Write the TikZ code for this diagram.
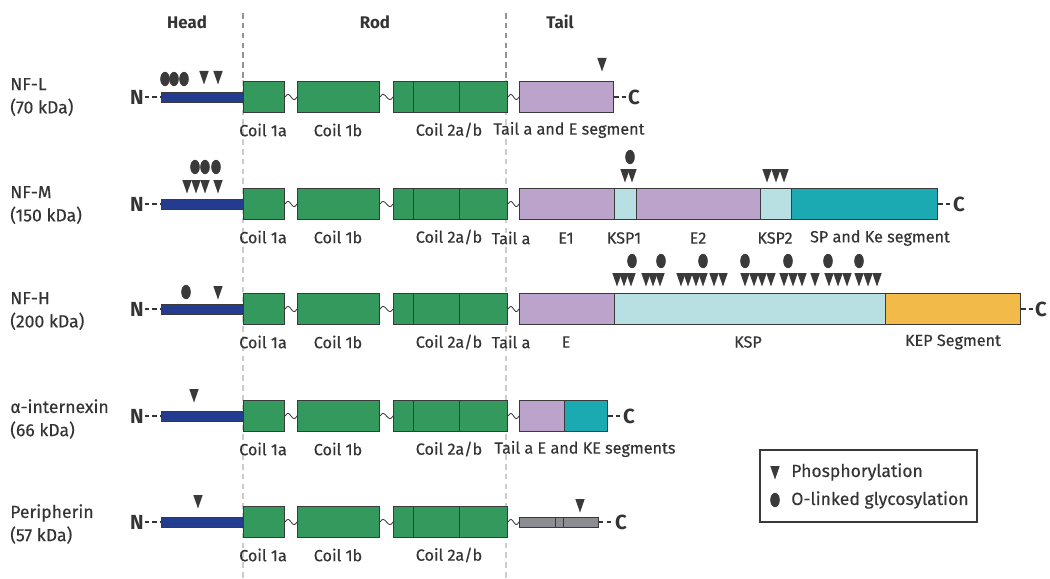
\documentclass[tikz,border=0pt]{standalone}
\usepackage{fontspec}
\setmainfont{Fira Sans}[UprightFeatures={FakeBold=0.35}]
\usepackage{tikz}
\usetikzlibrary{positioning, calc}
\newcommand{\pxu}{0.025cm}
\definecolor{my_blue}{RGB}{35, 60, 143}
\definecolor{my_green}{RGB}{52, 153, 92}
\definecolor{my_purple}{RGB}{188, 163, 204}
\definecolor{my_lightcyan}{RGB}{184, 224, 226}
\definecolor{my_teal}{RGB}{28, 170, 178}
\definecolor{my_orange}{RGB}{242, 186, 72}
\definecolor{my_grey}{RGB}{140, 141, 146}
\definecolor{my_outline}{RGB}{58, 58, 58}
\definecolor{my_text}{RGB}{52, 52, 52}
\tikzset {
  coil/.style = {draw=my_outline, line width=0.8pt, fill=my_green, minimum height=31*\pxu, inner sep=0, anchor=west},
  seg/.style = {draw=my_outline, line width=0.8pt, minimum height=31*\pxu, inner sep=0, anchor=west},
  thinseg/.style = {draw=my_outline, line width=0.7pt, fill=my_grey, minimum height=10*\pxu, inner sep=0, anchor=west},
  headbar/.style = {draw=my_outline, line width=0.6pt, fill=my_blue, minimum width=82*\pxu, minimum height=10*\pxu, inner sep=0, anchor=west},
  ends/.style = {draw=my_text, line width=1.9pt, dash pattern=on 3.2pt off 2.2pt},
  term/.style = {font=\fontsize{14.5}{16}\selectfont\bfseries, inner sep=0.6pt},
  lbl/.style = {font=\fontsize{11.5}{13}\selectfont, inner sep=0},
  hdr/.style = {font=\fontsize{12}{14}\selectfont\bfseries, inner sep=0},
  prot/.style = {font=\fontsize{12.5}{16.5}\selectfont, align=left, anchor=west, inner sep=0},
  leg/.style = {font=\fontsize{12.5}{14}\selectfont, anchor=west, inner sep=0},
  wave/.style = {draw=my_outline, line width=0.6pt},
  divtop/.style = {draw=gray!85, line width=0.8pt, dash pattern=on 4pt off 3pt},
  divlow/.style = {draw=gray!40, line width=0.8pt, dash pattern=on 4pt off 3pt},
  ptm/.style = {fill=my_outline},
  legendbox/.style = {draw=my_outline, line width=0.9pt, minimum width=217*\pxu, minimum height=72*\pxu, inner sep=0}
}

\begin{document}
\begin{tikzpicture}[x=0.025cm, y=-0.025cm, text=my_text]
  \useasboundingbox (0,0) rectangle (1050,578);

  % domain dividers
  \coordinate (d1t) at (243,13);
  \coordinate (d1m) at (243,80);
  \coordinate (d1b) at (243,578);
  \coordinate (d2t) at (506,13);
  \coordinate (d2m) at (506,80);
  \coordinate (d2b) at (506,578);
  \draw[divtop] (d1t) -- (d1m);
  \draw[divlow] (d1m) -- (d1b);
  \draw[divtop] (d2t) -- (d2m);
  \draw[divlow] (d2m) -- (d2b);

  \node[hdr] (head) at (187,22) {Head};
  \node[hdr] (rod) at (375,22) {Rod};
  \node[hdr] (tail) at (560,22) {Tail};

  % proteins
  \node[prot] (nfl) at (10,97) {NF-L\\(70 kDa)};
  \node[prot] (nfm) at (10,205) {NF-M\\(150 kDa)};
  \node[prot] (nfh) at (10,311) {NF-H\\(200 kDa)};
  \node[prot] (ina) at (10,419) {α-internexin\\(66 kDa)};
  \node[prot] (prph) at (10,524) {Peripherin\\(57 kDa)};

  % head and rod, same for all rows
  \foreach \i/\y in {l/97, m/204, h/309, a/416, p/522} {
    \node[term] (n-\i) at (137,\y) {N};
    \node[headbar] (head-\i) at (161,\y) {};
    \node[coil, minimum width=41*\pxu] (c1a-\i) at (243,\y) {};
    \node[coil, minimum width=82*\pxu] (c1b-\i) at (297,\y) {};
    \node[coil, minimum width=20*\pxu] (c2a-\i) at (393,\y) {};
    \node[coil, minimum width=46*\pxu] (c2b-\i) at (413,\y) {};
    \node[coil, minimum width=48*\pxu] (c2c-\i) at (459,\y) {};
    \draw[ends] (n-\i) -- (head-\i);
    \node[lbl] (l1a-\i) at (263,\y+33) {Coil 1a};
    \node[lbl] (l1b-\i) at (338,\y+33) {Coil 1b};
    \node[lbl] (l2-\i) at (449,\y+33) {Coil 2a/b};
  }

  % tails
  \node[seg, fill=my_purple, minimum width=94*\pxu] (t1-l) at (519,97) {};
  \node[term] (c-l) at (634,97) {C};
  \draw[ends] (t1-l) -- (c-l);
  \node[lbl] (lt-l) at (569,130) {Tail a and E segment};

  \node[seg, fill=my_purple, minimum width=95*\pxu] (t1-m) at (519,204) {};
  \node[seg, fill=my_lightcyan, minimum width=22*\pxu] (t2-m) at (614,204) {};
  \node[seg, fill=my_purple, minimum width=124*\pxu] (t3-m) at (636,204) {};
  \node[seg, fill=my_lightcyan, minimum width=31*\pxu] (t4-m) at (760,204) {};
  \node[seg, fill=my_teal, minimum width=146*\pxu] (t5-m) at (791,204) {};
  \node[term] (c-m) at (959,204) {C};
  \draw[ends] (t5-m) -- (c-m);
  \node[lbl] (lta-m) at (511,238) {Tail a};
  \node[lbl] (le1-m) at (566,238) {E1};
  \node[lbl] (lk1-m) at (624,238) {KSP1};
  \node[lbl] (le2-m) at (698,238) {E2};
  \node[lbl] (lk2-m) at (775,238) {KSP2};
  \node[lbl] (lsp-m) at (880,238) {SP and Ke segment};

  \node[seg, fill=my_purple, minimum width=95*\pxu] (t1-h) at (519,309) {};
  \node[seg, fill=my_lightcyan, minimum width=271*\pxu] (t2-h) at (614,309) {};
  \node[seg, fill=my_orange, minimum width=135*\pxu] (t3-h) at (885,309) {};
  \node[term] (c-h) at (1041,309) {C};
  \draw[ends] (t3-h) -- (c-h);
  \node[lbl] (lta-h) at (511,342) {Tail a};
  \node[lbl] (le-h) at (566,342) {E};
  \node[lbl] (lk-h) at (748,342) {KSP};
  \node[lbl] (lkep-h) at (953,342) {KEP Segment};

  \node[seg, fill=my_purple, minimum width=45*\pxu] (t1-a) at (519,416) {};
  \node[seg, fill=my_teal, minimum width=43*\pxu] (t2-a) at (564,416) {};
  \node[term] (c-a) at (629,416) {C};
  \draw[ends] (t2-a) -- (c-a);
  \node[lbl] (lt-a) at (585,449) {Tail a E and KE segments};

  \node[thinseg, minimum width=36*\pxu] (t1-p) at (519,522) {};
  \node[thinseg, minimum width=8*\pxu] (t2-p) at (555,522) {};
  \node[thinseg, minimum width=35*\pxu] (t3-p) at (563,522) {};
  \node[term] (c-p) at (621,522) {C};
  \draw[ends] (t3-p) -- (c-p);

  % linkers
  \foreach \i in {l, m, h, a, p} {
    \draw[wave] (c1a-\i.east) .. controls +(5,-9) and +(-5,9) .. (c1b-\i.west);
    \draw[wave] (c1b-\i.east) .. controls +(5,-9) and +(-5,9) .. (c2a-\i.west);
    \draw[wave] (c2c-\i.east) .. controls +(5,-9) and +(-5,9) .. (t1-\i.west);
  }

  % phosphorylation sites
  \foreach \x/\y in {204/71, 218/71, 602/58,
                     187/180, 196/180, 205/180, 218/180, 625/169, 632/169, 767/169, 776/169, 784/169,
                     218/286, 194/389, 198/495, 580/499, 775/466}
    \fill[ptm] (\x,\y) ++(-4.7,0) -- ++(9.4,0) -- ++(-4.7,13.5) -- cycle;
  \foreach \x in {617, 624, 631, 646, 653, 660, 681, 688, 696, 703, 714, 723, 745,
                  754, 762, 771, 784, 793, 802, 815, 829, 838, 847, 859, 868, 877}
    \fill[ptm] (\x,273) ++(-4.7,0) -- ++(9.4,0) -- ++(-4.7,13.5) -- cycle;

  % glycosylation sites
  \foreach \x/\y in {165/79, 174/79, 184/79, 195/167, 205/167, 216/167, 630/157,
                     186/292, 632/261, 661/261, 703/261, 745/261, 788/261, 828/261, 859/261, 775/500}
    \fill[ptm] (\x,\y) ellipse [x radius=4.8, y radius=7.2];

  % legend
  \node[legendbox] (legend) at (868.5,486) {};
  \node[leg] (lphos) at (791,472) {Phosphorylation};
  \node[leg] (lglyc) at (791,500) {O-linked glycosylation};
\end{tikzpicture}
\end{document}
